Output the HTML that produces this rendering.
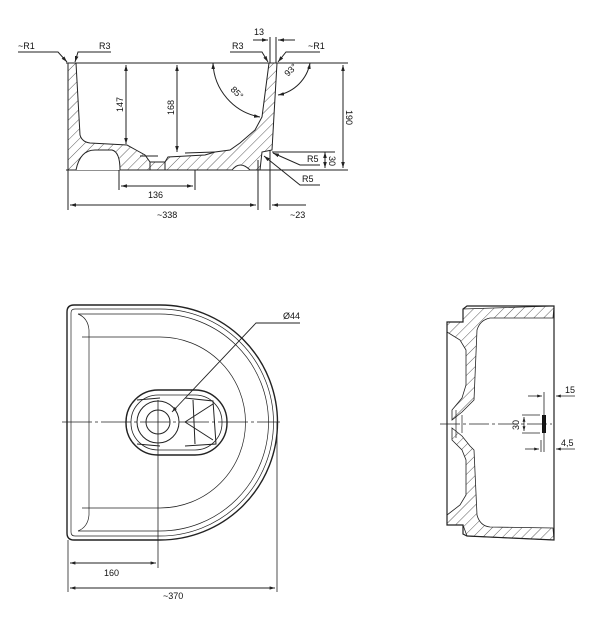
<!DOCTYPE html>
<html><head><style>body{margin:0;background:#fff}svg{display:block}text{font-family:"Liberation Sans",sans-serif;font-size:9px;fill:#111}</style></head><body>
<svg width="611" height="625" viewBox="0 0 611 625" xmlns="http://www.w3.org/2000/svg">
<defs>
<pattern id="h" width="7" height="7" patternUnits="userSpaceOnUse" patternTransform="rotate(45)"><line x1="0" y1="0" x2="0" y2="7" stroke="#333" stroke-width="0.8"/></pattern>
<marker id="a" viewBox="0 0 10 10" refX="10" refY="5" markerWidth="6" markerHeight="6" orient="auto-start-reverse"><path d="M0,2 L10,5 L0,8z" fill="#222"/></marker>
</defs>
<g stroke="#222" fill="none" stroke-width="1">
<line x1="66" y1="63" x2="348" y2="63"/>
<line x1="66" y1="170" x2="348" y2="170"/>
<path d="M68,63 L76,63 L80,135 Q82,142 90,143 L127,145 L136,150 L145,155 L150,162 L165,162 L168,157 L205,155 L215,152 L230,150 L240,143 L255,130 L262,117 L269,63 L277,63 L272,150 L262,152 L260,170 L68,170 Z" fill="url(#h)"/>
<path d="M76,170 Q80,150 95,150 L112,150 Q120,152 120,170" fill="#fff"/>
<path d="M232,170 Q240,160 250,170" fill="#fff"/>
<line x1="150" y1="170" x2="150" y2="162"/><line x1="165" y1="170" x2="165" y2="162"/>
<line x1="140" y1="156" x2="158" y2="156"/>
<line x1="185" y1="153" x2="215" y2="152"/>
<line x1="126" y1="65" x2="126" y2="144" marker-start="url(#a)" marker-end="url(#a)"/>
<line x1="177" y1="65" x2="177" y2="152" marker-start="url(#a)" marker-end="url(#a)"/>
<line x1="343" y1="65" x2="343" y2="168" marker-start="url(#a)" marker-end="url(#a)"/>
<line x1="325" y1="152" x2="325" y2="168" marker-start="url(#a)" marker-end="url(#a)"/>
<line x1="272" y1="152" x2="335" y2="152"/>
<line x1="119" y1="170" x2="119" y2="190"/><line x1="195" y1="170" x2="195" y2="190"/>
<line x1="121" y1="186" x2="193" y2="186" marker-start="url(#a)" marker-end="url(#a)"/>
<line x1="68" y1="170" x2="68" y2="210"/><line x1="258" y1="160" x2="258" y2="210"/><line x1="270" y1="150" x2="270" y2="210"/>
<line x1="70" y1="205" x2="256" y2="205" marker-start="url(#a)" marker-end="url(#a)"/>
<line x1="272" y1="205" x2="306" y2="205" marker-start="url(#a)"/>
<path d="M213,63 A57,57 0 0 0 260,117" marker-start="url(#a)" marker-end="url(#a)"/>
<path d="M310,63 A40,40 0 0 1 278,95" marker-start="url(#a)" marker-end="url(#a)"/>
<line x1="270" y1="63" x2="270" y2="37"/><line x1="276" y1="63" x2="276" y2="37"/>
<line x1="253" y1="40" x2="268" y2="40" marker-end="url(#a)"/><line x1="295" y1="40" x2="278" y2="40" marker-end="url(#a)"/>
<polyline points="18,52 58,52 67,62" marker-end="url(#a)"/>
<polyline points="111,52 78,52 75,62" marker-end="url(#a)"/>
<polyline points="230,52 262,52 268,62" marker-end="url(#a)"/>
<polyline points="320,52 286,52 278,62" marker-end="url(#a)"/>
<polyline points="320,165 300,165 273,153" marker-end="url(#a)"/>
<polyline points="320,185 300,185 264,156" marker-end="url(#a)"/>
</g>
<text x="18" y="49">~R1</text><text x="99" y="49">R3</text><text x="232" y="49">R3</text><text x="254" y="35">13</text><text x="308" y="49">~R1</text>
<text x="307" y="162">R5</text><text x="302" y="182">R5</text><text x="148" y="198">136</text><text x="157" y="218">~338</text><text x="290" y="218">~23</text>
<text transform="translate(123,112) rotate(-90)">147</text><text transform="translate(174,115) rotate(-90)">168</text>
<text transform="translate(346,110) rotate(90)">190</text><text transform="translate(329,156) rotate(90)">30</text>
<text transform="translate(230,90) rotate(45)">85°</text><text transform="translate(288,77) rotate(-45)">93°</text>
<g stroke="#222" fill="none">
<path d="M74,305 L160,305 A117.5,117.5 0 0 1 160,540 L74,540 Q67,540 67,533 L67,312 Q67,305 74,305 Z" stroke-width="1.4"/>
<path d="M75,309 L160,309 A113.5,113.5 0 0 1 160,536 L75,536 Q71,536 71,532 L71,313 Q71,309 75,309 Z" stroke-width="0.7"/>
<path d="M78,314 L160,314 A108.5,108.5 0 0 1 160,531 L78,531" stroke-width="0.7"/>
<path d="M78,314 Q88,318 89,330 L89,515 Q88,527 78,531" stroke-width="0.7"/>
<path d="M82,337 L160,337 A85.5,85.5 0 0 1 160,508 L82,508" stroke-width="0.7"/>
<rect x="126" y="390" width="101" height="65" rx="32" stroke-width="1.4"/>
<rect x="131" y="395" width="91" height="55" rx="27" stroke-width="0.8"/>
<circle cx="158" cy="422" r="21"/><circle cx="158" cy="422" r="12"/>
<path d="M137,400 L160,398 M137,444 L160,446 M185,398 L213,401 L216,444 L185,446 M193,400 L195,444 M185,422 L213,404 M185,422 L213,440"/>
</g>
<line x1="62" y1="422" x2="280" y2="422" stroke="#222" stroke-width="0.8" stroke-dasharray="30,3,3,3"/>
<line x1="158" y1="400" x2="158" y2="568" stroke="#222" stroke-width="0.8"/>
<line x1="68" y1="540" x2="68" y2="592" stroke="#222" stroke-width="0.8"/>
<line x1="277" y1="422" x2="277" y2="592" stroke="#222" stroke-width="0.8"/>
<g stroke="#222" fill="none" stroke-width="0.9">
<line x1="70" y1="563" x2="156" y2="563" marker-start="url(#a)" marker-end="url(#a)"/>
<line x1="70" y1="588" x2="275" y2="588" marker-start="url(#a)" marker-end="url(#a)"/>
<polyline points="300,323 256,323 172,412" marker-end="url(#a)"/>
</g>
<text x="283" y="319">Ø44</text><text x="104" y="576">160</text><text x="163" y="599">~370</text>
<g stroke="#222" fill="none">
<path d="M463,322 L463,309 L467,306 L554,306 L554,540 L467,536 L463,534 L463,525 L447,525 L447,322 Z" stroke-width="1.2"/>
<path d="M463,309 L554,306 L553,318 L490,318 Q480,320 477,330 L474,400 L470,404 L462,412 L452,420 L452,410 L462,398 L466,385 L466,350 L460,340 L447,332 L447,322 L463,322 Z" fill="url(#h)" stroke-width="0.8"/>
<path d="M452,428 L462,436 L470,446 L474,450 L477,515 Q480,526 490,527 L553,528 L554,540 L467,536 L463,525 L447,525 L447,515 L460,505 L466,495 L466,460 L462,450 L452,440 Z" fill="url(#h)" stroke-width="0.8"/>
<path d="M456,410 L456,438 M462,415 L462,433" stroke-width="0.7"/>
</g>
<line x1="440" y1="424" x2="552" y2="424" stroke="#222" stroke-width="0.8" stroke-dasharray="20,3,3,3"/>
<rect x="542" y="415" width="4" height="18" fill="#111"/>
<g stroke="#222" fill="none" stroke-width="0.8">
<line x1="544" y1="392" x2="544" y2="452"/><line x1="541" y1="440" x2="541" y2="452"/>
<line x1="528" y1="396" x2="542" y2="396" marker-end="url(#a)"/><line x1="575" y1="396" x2="556" y2="396" marker-end="url(#a)"/>
<line x1="525" y1="449" x2="539" y2="449" marker-end="url(#a)"/><line x1="575" y1="449" x2="556" y2="449" marker-end="url(#a)"/>
<line x1="522" y1="415" x2="540" y2="415"/><line x1="522" y1="433" x2="540" y2="433"/>
<line x1="524" y1="417" x2="524" y2="431" marker-start="url(#a)" marker-end="url(#a)"/>
</g>
<text x="565" y="393">15</text><text x="561" y="446">4,5</text>
<text transform="translate(519,430) rotate(-90)">30</text>
</svg>
</body></html>
